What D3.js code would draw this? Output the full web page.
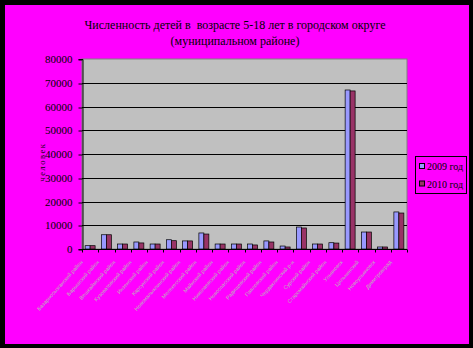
<!DOCTYPE html>
<html>
<head>
<meta charset="utf-8">
<script src="https://cdn.jsdelivr.net/npm/d3@7"></script>
<style>
  body { margin: 0; background: #000; }
  svg { display: block; }
</style>
</head>
<body>
<div id="chart"></div>
<script>
// chart data
const districts = [
  "Базарносызганский район", "Барышский район", "Вешкаймский район", "Кузоватовский район",
  "Инзенский район", "Карсунский район", "Новомалыклинский район", "Мелекесский район",
  "Майнский район", "Николаевский район", "Новоспасский район", "Радищевский район",
  "Павловский район", "Чердаклинский р-н", "Сурский район", "Старомайнский район",
  "Ульяновск", "Цильнинский", "Новоульяновск", "Димитровград"
];
const seriesNames = ["2009 год", "2010 год"];
const values2009 = [1400, 6000, 2100, 2950, 2100, 3900, 3400, 6750, 2100, 2100, 2100, 3400, 1250, 9250, 2100, 2650, 66950, 7150, 850, 15600];
const values2010 = [1400, 6000, 2100, 2550, 2100, 3500, 3400, 6300, 2100, 2100, 1700, 2950, 850, 8850, 2100, 2500, 66550, 7150, 850, 15150];
const yTicks = [0, 10000, 20000, 30000, 40000, 50000, 60000, 70000, 80000];
const colors = ["#9999ff", "#993366"];

const width = 473, height = 348;
const plot = { left: 82, right: 407, top: 59, bottom: 249 };

const svg = d3.select("#chart").append("svg")
  .attr("width", width)
  .attr("height", height);

// frame
svg.append("rect").attr("width", width).attr("height", height).attr("fill", "#000");
svg.append("rect").attr("x", 5).attr("y", 5).attr("width", 464).attr("height", 339).attr("fill", "#ff00ff");

// title
const title = svg.append("text")
  .attr("text-anchor", "middle")
  .attr("font-family", "Liberation Serif, serif")
  .attr("font-size", 12)
  .attr("fill", "#000");
title.append("tspan").attr("x", 235).attr("y", 29).attr("xml:space", "preserve")
  .text("Численность детей в  возрасте 5-18 лет в городском округе");
title.append("tspan").attr("x", 235).attr("y", 45).text("(муниципальном районе)");

const x0 = d3.scaleBand()
  .domain(districts)
  .range([plot.left, plot.right])
  .paddingInner(0.386)
  .paddingOuter(0.193);

const x1 = d3.scaleBand()
  .domain(seriesNames)
  .range([0, x0.bandwidth()]);

const y = d3.scaleLinear()
  .domain([0, 80000])
  .range([plot.bottom, plot.top]);

// plot area
svg.append("rect")
  .attr("x", plot.left).attr("y", plot.top)
  .attr("width", plot.right - plot.left).attr("height", plot.bottom - plot.top)
  .attr("fill", "#c0c0c0")
  .attr("stroke", "#808080");

// gridlines
svg.append("g")
  .selectAll("line")
  .data(yTicks.slice(1, -1))
  .join("line")
  .attr("x1", plot.left).attr("x2", plot.right)
  .attr("y1", d => Math.round(y(d)) + 0.5).attr("y2", d => Math.round(y(d)) + 0.5)
  .attr("stroke", "#000");

// bars
const rows = districts.map((d, i) => ({ name: d, vals: [values2009[i], values2010[i]] }));
svg.append("g")
  .selectAll("g")
  .data(rows)
  .join("g")
  .attr("transform", d => `translate(${x0(d.name)},0)`)
  .selectAll("rect")
  .data(d => d.vals.map((v, k) => ({ key: seriesNames[k], v, k })))
  .join("rect")
  .attr("x", d => x1(d.key))
  .attr("y", d => y(d.v))
  .attr("width", x1.bandwidth())
  .attr("height", d => y(0) - y(d.v))
  .attr("fill", d => colors[d.k])
  .attr("stroke", "#000")
  .attr("stroke-width", 0.7);

// y axis
const yAxis = svg.append("g")
  .attr("transform", `translate(${plot.left + 0.5},0)`)
  .call(d3.axisLeft(y).tickValues(yTicks).tickFormat(d3.format("d")).tickSize(4).tickPadding(6));
yAxis.select(".domain").attr("stroke", "#000");
yAxis.selectAll(".tick line").attr("stroke", "#000")
  .attr("transform", d => `translate(0,${Math.round(y(d)) + 0.5 - y(d)})`);
yAxis.selectAll("text")
  .attr("font-family", "Liberation Serif, serif")
  .attr("font-size", 11)
  .attr("fill", "#000");

// x axis
const xAxis = svg.append("g")
  .attr("transform", `translate(0,${plot.bottom + 0.5})`);
xAxis.append("line")
  .attr("x1", plot.left).attr("x2", plot.right)
  .attr("stroke", "#000");
xAxis.selectAll(".sep")
  .data(districts.concat([null]))
  .join("line")
  .attr("class", "sep")
  .attr("x1", (d, i) => Math.round(plot.left + i * x0.step()) + 0.5)
  .attr("x2", (d, i) => Math.round(plot.left + i * x0.step()) + 0.5)
  .attr("y1", 0).attr("y2", 3)
  .attr("stroke", "#000");
xAxis.selectAll(".lab")
  .data(districts)
  .join("text")
  .attr("class", "lab")
  .attr("text-anchor", "end")
  .attr("font-family", "Liberation Sans, sans-serif")
  .attr("font-size", 5.4)
  .attr("fill", "#b8b8b8")
  .attr("transform", d => `translate(${x0(d) + x0.bandwidth() / 2 - 7},${13}) rotate(-48)`)
  .text(d => d);

// y axis title
svg.append("text")
  .attr("transform", "translate(45,162) rotate(-90)")
  .attr("text-anchor", "middle")
  .attr("font-family", "Liberation Serif, serif")
  .attr("font-size", 8.5)
  .attr("letter-spacing", 1.5)
  .attr("fill", "#000")
  .text("человек");

// legend
const legend = svg.append("g");
legend.append("rect")
  .attr("x", 415.5).attr("y", 156.5).attr("width", 51).attr("height", 37)
  .attr("fill", "#ff00ff").attr("stroke", "#000");
const items = legend.selectAll("g.item")
  .data(seriesNames)
  .join("g")
  .attr("class", "item")
  .attr("transform", (d, i) => `translate(0,${166.5 + i * 17.5})`);
items.append("rect")
  .attr("x", 419.5).attr("y", -3).attr("width", 5).attr("height", 5)
  .attr("fill", (d, i) => colors[i]).attr("stroke", "#000");
items.append("text")
  .attr("x", 427).attr("y", 3.5)
  .attr("font-family", "Liberation Serif, serif")
  .attr("font-size", 10)
  .attr("fill", "#000")
  .text(d => d);
</script>
</body>
</html>
